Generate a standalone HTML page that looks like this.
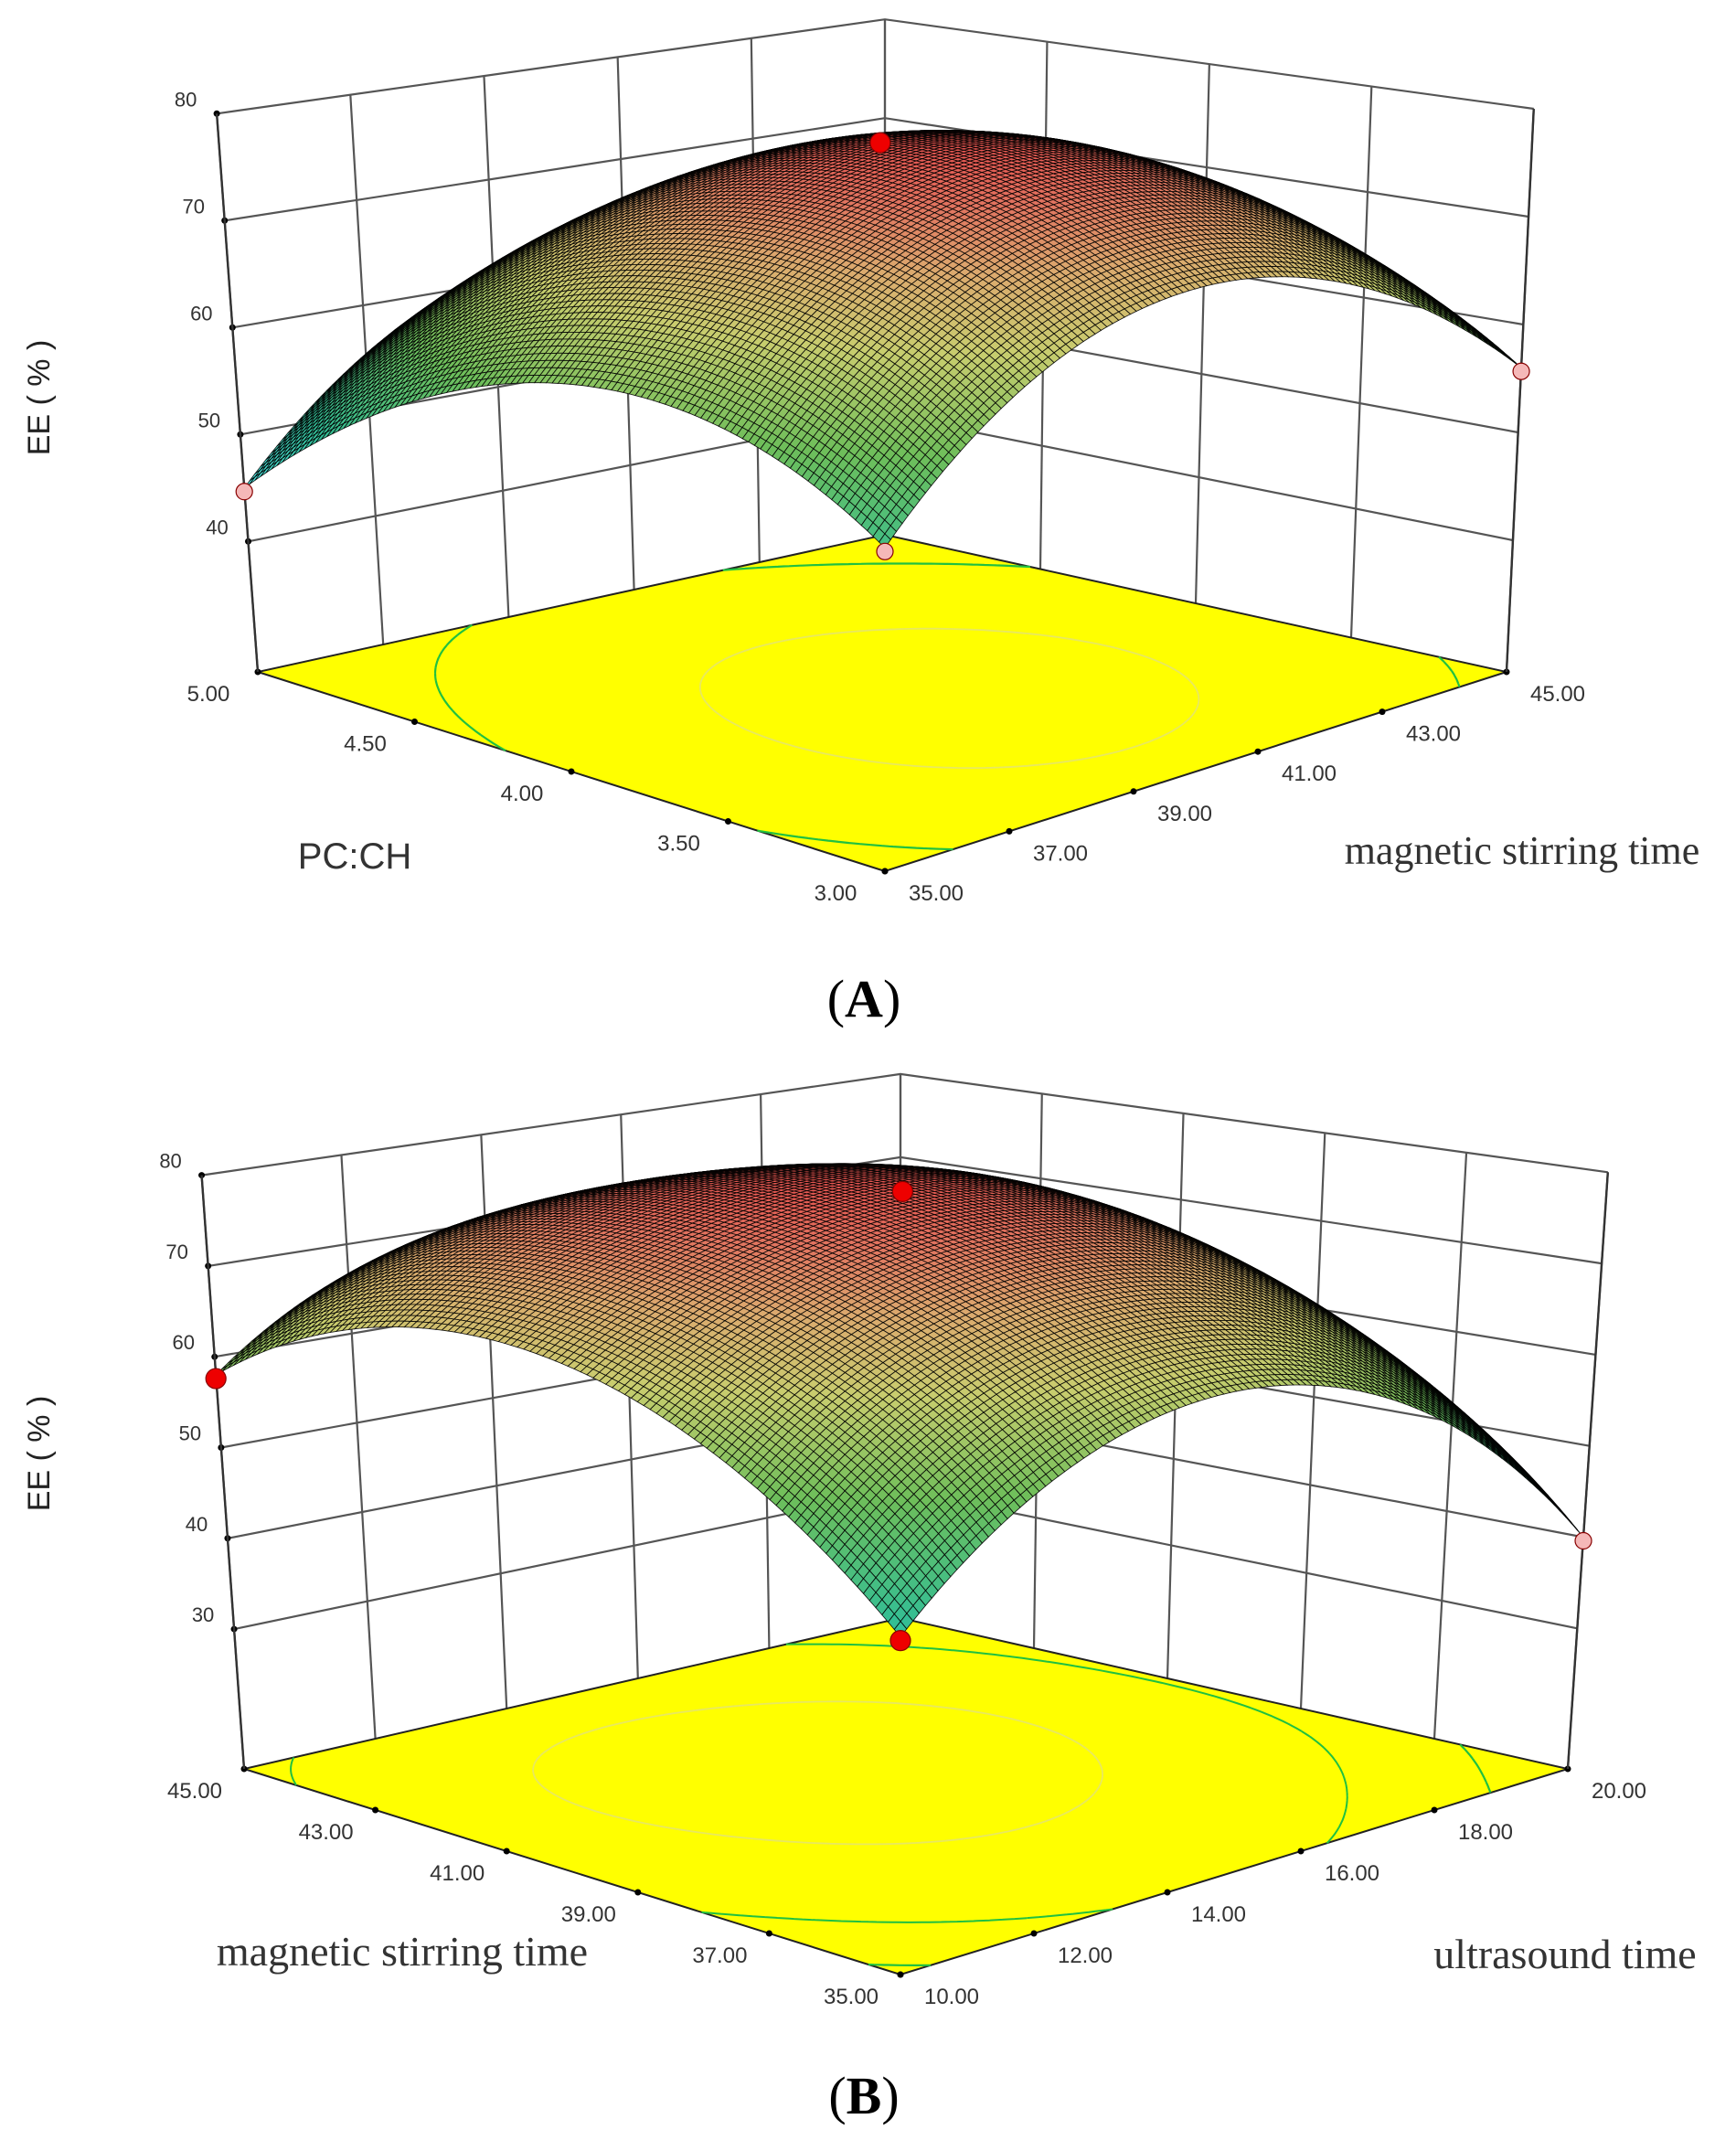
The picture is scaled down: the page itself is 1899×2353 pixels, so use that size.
<!DOCTYPE html>
<html><head><meta charset="utf-8"><style>
html,body{margin:0;padding:0;background:#fff;}
svg{display:block;}
</style></head><body>
<svg id="chart" width="1899" height="2353" viewBox="0 0 1899 2353" xmlns="http://www.w3.org/2000/svg">
<rect width="1899" height="2353" fill="#fff"/>
<g id="panelA"></g>
<g id="panelB"></g>
<text x="945" y="1112" text-anchor="middle" font-family="Liberation Serif, serif" font-size="58">(<tspan font-weight="bold">A</tspan>)</text>
<text x="945" y="2312" text-anchor="middle" font-family="Liberation Serif, serif" font-size="58">(<tspan font-weight="bold">B</tspan>)</text>
</svg>
<script>
// ---- Panel A data ----
const A_pcTicks = ["3.00","3.50","4.00","4.50","5.00"];
const A_mstTicks = ["35.00","37.00","39.00","41.00","43.00","45.00"];
const A_zTicks = [40,50,60,70,80];
const A_ee = [
  [54.0, 65.6, 69.8, 66.6, 56.0],
  [60.8, 72.5, 76.9, 73.9, 63.5],
  [61.5, 73.4, 78.0, 75.2, 65.0],
  [56.2, 68.4, 73.1, 70.5, 60.5],
  [45.0, 57.3, 62.3, 59.8, 50.0]
];
const A_points = [[0,0,54],[1,0,45],[0,1,56],[0.5,0.5,78]];
// ---- Panel B data ----
const B_mstTicks = ["35.00","37.00","39.00","41.00","43.00","45.00"];
const B_usTicks = ["10.00","12.00","14.00","16.00","18.00","20.00"];
const B_zTicks = [30,40,50,60,70,80];
const B_ee = [
  [47, 60, 64, 58, 40],
  [60, 71, 74, 69, 54],
  [67, 76, 79, 75, 60],
  [67, 76, 78, 74, 59],
  [58, 68, 70, 65, 52]
];
const B_points = [[0,0,47],[1,0,58],[0,1,40],[0.5,0.5,79]];

const NS="http://www.w3.org/2000/svg";
function mk(parent,tag,attrs){const e=document.createElementNS(NS,tag);for(const k in attrs)e.setAttribute(k,attrs[k]);parent.appendChild(e);return e;}

function lag(vals,x){
  const n=vals.length;let r=0;
  for(let i=0;i<n;i++){let w=1;const xi=i/(n-1);
    for(let j=0;j<n;j++){if(j!==i){const xj=j/(n-1);w*=(x-xj)/(xi-xj);}}
    r+=w*vals[i];}
  return r;
}
function surf(grid,s,t){const col=grid.map(r=>lag(r,t));return lag(col,s);}

function colormap(f){
  const stops=[[0,[80,235,235]],[0.2,[50,190,150]],[0.45,[110,190,90]],[0.65,[200,205,110]],[0.8,[220,170,110]],[0.92,[225,115,95]],[1,[230,85,80]]];
  f=Math.max(0,Math.min(1,f));
  for(let i=1;i<stops.length;i++){if(f<=stops[i][0]){const a=stops[i-1],b=stops[i];const u=(f-a[0])/(b[0]-a[0]);
    const c=a[1].map((v,k)=>Math.round(v+(b[1][k]-v)*u));return `rgb(${c[0]},${c[1]},${c[2]})`;}}
  return 'rgb(230,85,80)';
}

function drawPanel(g,cfg){
  const {F,L,R,B,kF,kL,kR,kB,dL,dR,z0,zTop,grid}=cfg;
  function P(s,t,z){
    const a=(1-s)*(1-t),b=s*(1-t),c=(1-s)*t,d=s*t;
    const x=F[0]*a+L[0]*b+R[0]*c+B[0]*d, y=F[1]*a+L[1]*b+R[1]*c+B[1]*d;
    const k=kF*a+kL*b+kR*c+kB*d, dx=dL*b+dR*c;
    return [x+dx*(z-z0), y-k*(z-z0)];
  }
  const pt=p=>p[0].toFixed(1)+','+p[1].toFixed(1);
  const wall=mk(g,'g',{stroke:'#555','stroke-width':2.2,fill:'none'});
  
  
  const zl=[...cfg.zTicks]; if(zl.indexOf(zTop)<0) zl.push(zTop);
  zl.forEach(z=>{
    mk(wall,'polyline',{points:[P(1,0,z),P(1,1,z),P(0,1,z)].map(pt).join(' ')});
  });
  const nt=cfg.tTicks.length-1, ns=cfg.sTicks.length-1;
  for(let i=0;i<=nt;i++){const t=i/nt;mk(wall,'line',{x1:P(1,t,z0)[0],y1:P(1,t,z0)[1],x2:P(1,t,zTop)[0],y2:P(1,t,zTop)[1]});}
  for(let i=0;i<=ns;i++){const s=i/ns;mk(wall,'line',{x1:P(s,1,z0)[0],y1:P(s,1,z0)[1],x2:P(s,1,zTop)[0],y2:P(s,1,zTop)[1]});}
  cfg.zTicks.forEach(z=>{const p=P(1,0,z);
    const c=mk(g,'circle',{cx:p[0],cy:p[1],r:3.5,fill:'#000'});
    
    const tx=mk(g,'text',{x:p[0]-34,y:p[1]-8,'text-anchor':'middle','font-family':'Liberation Sans, sans-serif','font-size':22,fill:'#333'});
    tx.textContent=z;
  });
  const floor=mk(g,'polygon',{points:[P(0,0,z0),P(1,0,z0),P(1,1,z0),P(0,1,z0)].map(pt).join(' '),fill:'#ffff00',stroke:'#222','stroke-width':2});
  
  const M=90;const vals=[];
  for(let i=0;i<=M;i++){vals.push([]);for(let j=0;j<=M;j++)vals[i].push(surf(grid,i/M,j/M));}
  cfg.contours.forEach(([lev,col,w])=>{
    let d='';
    for(let i=0;i<M;i++)for(let j=0;j<M;j++){
      const c=[[i,j],[i+1,j],[i+1,j+1],[i,j+1]];const cr=[];
      for(let e=0;e<4;e++){const p1=c[e],p2=c[(e+1)%4];const v1=vals[p1[0]][p1[1]]-lev,v2=vals[p2[0]][p2[1]]-lev;
        if((v1<0)!==(v2<0)){const u=v1/(v1-v2);cr.push([(p1[0]+(p2[0]-p1[0])*u)/M,(p1[1]+(p2[1]-p1[1])*u)/M]);}}
      for(let k=0;k+1<cr.length;k+=2){const a=P(cr[k][0],cr[k][1],z0),b=P(cr[k+1][0],cr[k+1][1],z0);d+=`M${pt(a)}L${pt(b)}`;}
    }
    const path=mk(g,'path',{d:d,stroke:col,'stroke-width':w,fill:'none'});
    
  });
  for(let i=0;i<=ns;i++){const s=i/ns;const p=P(s,0,z0);
    const c=mk(g,'circle',{cx:p[0],cy:p[1],r:3.5,fill:'#000'});
    
    const tx=mk(g,'text',{x:p[0]-54,y:p[1]+32,'text-anchor':'middle','font-family':'Liberation Sans, sans-serif','font-size':24,fill:'#333'});
    tx.textContent=cfg.sTicks[i];}
  for(let i=0;i<=nt;i++){const t=i/nt;const p=P(0,t,z0);
    const c=mk(g,'circle',{cx:p[0],cy:p[1],r:3.5,fill:'#000'});
    
    const tx=mk(g,'text',{x:p[0]+56,y:p[1]+32,'text-anchor':'middle','font-family':'Liberation Sans, sans-serif','font-size':24,fill:'#333'});
    tx.textContent=cfg.tTicks[i];}
  const N=110;const sg=mk(g,'g',{stroke:'#000','stroke-width':0.85,'stroke-opacity':0.9});
  
  const Z=[];let zmin=1e9,zmax=-1e9;
  for(let i=0;i<=N;i++){Z.push([]);for(let j=0;j<=N;j++){const v=surf(grid,i/N,j/N);Z[i].push(v);zmin=Math.min(zmin,v);zmax=Math.max(zmax,v);}}
  const cells=[];for(let i=0;i<N;i++)for(let j=0;j<N;j++)cells.push([i,j]);
  cells.sort((a,b)=>(b[0]+b[1])-(a[0]+a[1]));
  let html='';
  cells.forEach(([i,j])=>{
    const q=[P(i/N,j/N,Z[i][j]),P((i+1)/N,j/N,Z[i+1][j]),P((i+1)/N,(j+1)/N,Z[i+1][j+1]),P(i/N,(j+1)/N,Z[i][j+1])];
    const avg=(Z[i][j]+Z[i+1][j]+Z[i+1][j+1]+Z[i][j+1])/4;
    html+=`<polygon points="${q.map(pt).join(' ')}" fill="${colormap((avg-zmin)/(zmax-zmin))}"/>`;
  });
  sg.innerHTML=html;
  const ed=mk(g,'g',{stroke:'#333','stroke-width':2.4});
  
  [[1,0],[0,1]].forEach(([s,t])=>{const a=P(s,t,z0),b=P(s,t,zTop);mk(ed,'line',{x1:a[0],y1:a[1],x2:b[0],y2:b[1]});});
  cfg.points.forEach(([s,t,z])=>{const p=P(s,t,z);
    const red = z>=cfg.redAbove;
    const c=mk(g,'circle',{cx:p[0],cy:p[1]+4,r:red?11:9,fill:red?'#e00':'#f5b8b8',stroke:'#800','stroke-width':1.2});
    });
}

drawPanel(document.getElementById('panelA'),{
  F:[968,953],L:[282,735],R:[1648,735],B:[968,585],kF:13.5,kL:11.7,kR:11.8,kB:10.8,dL:-0.86,dR:0.57,
  z0:27.8,zTop:80,grid:A_ee,zTicks:A_zTicks,sTicks:A_pcTicks,tTicks:A_mstTicks,points:A_points,redAbove:70,
  contours:[[60,'#20c040',2.2],[74,'#e8e860',1.8]]
});
drawPanel(document.getElementById('panelB'),{
  F:[985,2160],L:[267,1935],R:[1715,1935],B:[985,1770],kF:11.4,kL:9.93,kR:9.98,kB:9.1,dL:-0.71,dR:0.67,
  z0:14.6,zTop:80,grid:B_ee,zTicks:B_zTicks,sTicks:B_mstTicks,tTicks:B_usTicks,points:B_points,redAbove:45,
  contours:[[50,'#20c040',2.2],[62,'#20c040',2.0],[75,'#e8e860',1.8]]
});

const svg=document.getElementById('chart');
function label(txt,x,y,opts,name){const t=mk(svg,'text',Object.assign({x:x,y:y,'text-anchor':'middle'},opts));t.textContent=txt;
  return t;}
label('EE ( % )',0,0,{transform:'translate(54,435) rotate(-90)','font-family':'Liberation Sans, sans-serif','font-size':34,fill:'#222'},'y-axis-title-a');
label('EE ( % )',0,0,{transform:'translate(54,1590) rotate(-90)','font-family':'Liberation Sans, sans-serif','font-size':34,fill:'#222'},'y-axis-title-b');
label('PC:CH',388,950,{'font-family':'Liberation Sans, sans-serif','font-size':40,fill:'#333'},'x-axis-title-a');
label('magnetic stirring time',1665,945,{'font-family':'Liberation Serif, serif','font-size':44,fill:'#333'},'y2-axis-title-a');
label('magnetic stirring time',440,2150,{'font-family':'Liberation Serif, serif','font-size':46,fill:'#333'},'x-axis-title-b');
label('ultrasound time',1712,2153,{'font-family':'Liberation Serif, serif','font-size':46,fill:'#333'},'y2-axis-title-b');
</script>
</body></html>
